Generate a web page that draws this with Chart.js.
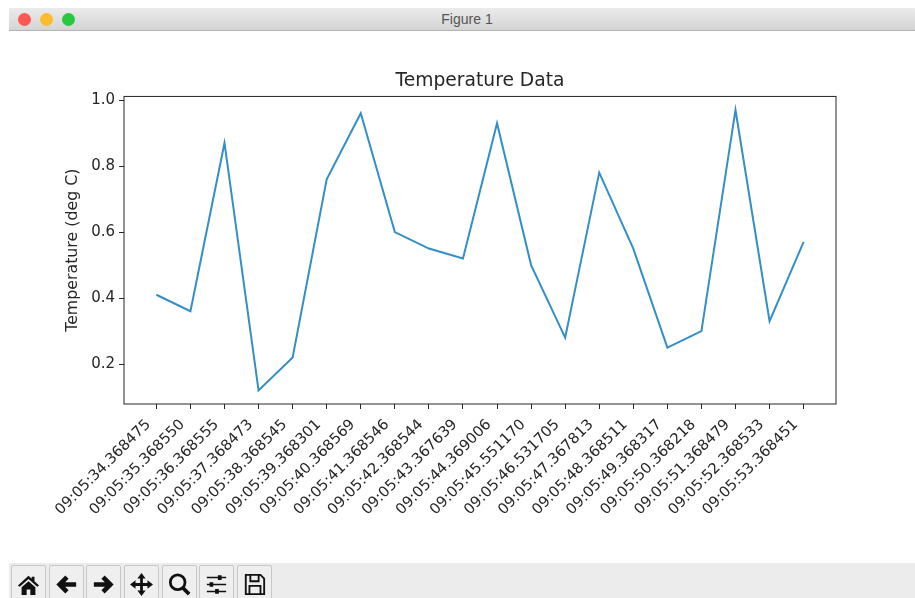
<!DOCTYPE html>
<html>
<head>
<meta charset="utf-8">
<title>Figure 1</title>
<script src="https://cdn.jsdelivr.net/npm/chart.js@4"></script>
<style>
  html, body { margin: 0; padding: 0; background: #fff; overflow: hidden; }
  body { position: relative; width: 915px; height: 598px; }
  #chart { position: absolute; left: 0; top: 0; }
  #titlebar {
    position: absolute; left: 9px; top: 8px; width: 906px; height: 22px;
    background: linear-gradient(#ebebeb, #d4d4d4);
    border-bottom: 1px solid #b4b4b4;
    text-align: center; font: 14px/23px "Liberation Sans", sans-serif; color: #555;
  }
  #titlebar span { position: relative; left: 5px; }
  .light { position: absolute; top: 4.5px; width: 13px; height: 13px; border-radius: 50%; }
  #toolbar { position: absolute; left: 9px; top: 563px; width: 906px; height: 35px; background: #ececec; overflow: hidden; }
  .btn {
    position: absolute; top: 2px; width: 33px; height: 36px; background: #efefef;
    border: 1px solid #c8c8c8; border-radius: 2px; box-sizing: content-box;
  }
  .btn svg { position: absolute; left: 5px; top: 7px; width: 23px; height: 23px; }
</style>
</head>
<body>
<canvas id="chart" width="915" height="598"></canvas>
<div id="titlebar">
  <div class="light" style="left:9px;background:#fc5753"></div>
  <div class="light" style="left:31px;background:#fdbc2d"></div>
  <div class="light" style="left:53px;background:#28c83f"></div>
  <span>Figure 1</span>
</div>
<div id="toolbar">
  <div class="btn" style="left:2px"><svg viewBox="0 0 25 25"><path d="M12.5 3 L1 13.5 L3 15 L12.5 6.5 L22 15 L24 13.5 L19 9 V4 H16 V6.2 Z M5 15.5 L12.5 9 L20 15.5 V24 H14.5 V18 H10.5 V24 H5 Z" fill="#111"/></svg></div>
  <div class="btn" style="left:40px"><svg viewBox="0 0 25 25"><path d="M23 12.5 H6 M13 4.5 L5 12.5 L13 20.5" fill="none" stroke="#111" stroke-width="5"/></svg></div>
  <div class="btn" style="left:77px"><svg viewBox="0 0 25 25"><path d="M2 12.5 H19 M12 4.5 L20 12.5 L12 20.5" fill="none" stroke="#111" stroke-width="5"/></svg></div>
  <div class="btn" style="left:115px"><svg viewBox="0 0 25 25"><path d="M12.5 3 V22 M3 12.5 H22" stroke="#111" stroke-width="3"/><path d="M12.5 0 L17 6 H8 Z M12.5 25 L17 19 H8 Z M0 12.5 L6 8 V17 Z M25 12.5 L19 8 V17 Z" fill="#111"/></svg></div>
  <div class="btn" style="left:153px"><svg viewBox="0 0 25 25"><circle cx="10.5" cy="10" r="8" fill="none" stroke="#111" stroke-width="3"/><path d="M16 16 L23 23" stroke="#111" stroke-width="4"/></svg></div>
  <div class="btn" style="left:190px"><svg viewBox="0 0 25 25"><path d="M2 5 H23 M2 12.5 H23 M2 20 H23" stroke="#111" stroke-width="1.6"/><path d="M14 2.5 h4 v5 h-4 Z M5 10 h4 v5 h-4 Z M11 17.5 h4 v5 h-4 Z" fill="#111"/></svg></div>
  <div class="btn" style="left:228px"><svg viewBox="0 0 25 25"><path d="M3 2 H19 L23 6 V23 H3 Z" fill="none" stroke="#111" stroke-width="2"/><path d="M8 2 V9 H17 V2 M7 23 V14 H19 V23" fill="none" stroke="#111" stroke-width="2"/></svg></div>
</div>
<script>
const timeLabels = [
    '09:05:34.368475', '09:05:35.368550', '09:05:36.368555', '09:05:37.368473',
    '09:05:38.368545', '09:05:39.368301', '09:05:40.368569', '09:05:41.368546',
    '09:05:42.368544', '09:05:43.367639', '09:05:44.369006', '09:05:45.551170',
    '09:05:46.531705', '09:05:47.367813', '09:05:48.368511', '09:05:49.368317',
    '09:05:50.368218', '09:05:51.368479', '09:05:52.368533', '09:05:53.368451'
];
const temperatures = [0.41, 0.36, 0.87, 0.12, 0.22, 0.76, 0.96, 0.60, 0.55, 0.52,
                      0.93, 0.50, 0.28, 0.78, 0.55, 0.25, 0.30, 0.97, 0.33, 0.57];
const yTicks = [0.2, 0.4, 0.6, 0.8, 1.0];

const fontFamily = '"DejaVu Sans", sans-serif';
const inkColor = '#262626';

// matplotlib draws a full box round the axes
const axesFrame = {
    id: 'axesFrame',
    afterDraw(chart) {
        const a = chart.chartArea;
        const ctx = chart.ctx;
        ctx.save();
        ctx.strokeStyle = '#262626';
        ctx.lineWidth = 1;
        ctx.strokeRect(a.left, a.top, a.right - a.left, a.bottom - a.top);
        ctx.restore();
    }
};

new Chart(document.getElementById('chart').getContext('2d'), {
    type: 'line',
    data: {
        datasets: [{
            data: temperatures.map((t, i) => ({ x: i, y: t })),
            borderColor: '#338fc5',
            borderWidth: 2,
            pointRadius: 0,
            tension: 0,
            fill: false
        }]
    },
    options: {
        responsive: false,
        animation: false,
        events: [],
        layout: { padding: { left: 60, right: 79, top: 70, bottom: 0 } },
        plugins: {
            legend: { display: false },
            tooltip: { enabled: false },
            title: {
                display: true,
                fullSize: false,
                text: 'Temperature Data',
                color: inkColor,
                font: { family: fontFamily, size: 18.7, weight: 'normal' },
                padding: { top: 0, bottom: 4 }
            }
        },
        scales: {
            x: {
                type: 'linear',
                min: -0.95,
                max: 19.95,
                afterBuildTicks(axis) {
                    axis.ticks = timeLabels.map((_, i) => ({ value: i }));
                },
                afterFit(axis) { axis.height = 194; },
                grid: { drawOnChartArea: false, drawTicks: true, tickLength: 5, color: inkColor },
                border: { display: false },
                ticks: {
                    autoSkip: false,
                    minRotation: 45,
                    maxRotation: 45,
                    padding: 7,
                    labelOffset: -8,
                    color: inkColor,
                    font: { family: fontFamily, size: 14.8 },
                    callback: value => timeLabels[value]
                }
            },
            y: {
                min: 0.079,
                max: 1.011,
                afterBuildTicks(axis) {
                    axis.ticks = yTicks.map(v => ({ value: v }));
                },
                afterFit(axis) { axis.width = 64; },
                grid: { drawOnChartArea: false, drawTicks: true, tickLength: 5, color: inkColor },
                border: { display: false },
                title: {
                    display: true,
                    text: 'Temperature (deg C)',
                    color: inkColor,
                    padding: { top: 3, bottom: 3 },
                    font: { family: fontFamily, size: 15.8 }
                },
                ticks: {
                    padding: 4,
                    color: inkColor,
                    font: { family: fontFamily, size: 15 },
                    callback: value => value.toFixed(1)
                }
            }
        }
    },
    plugins: [axesFrame]
});
</script>
</body>
</html>
